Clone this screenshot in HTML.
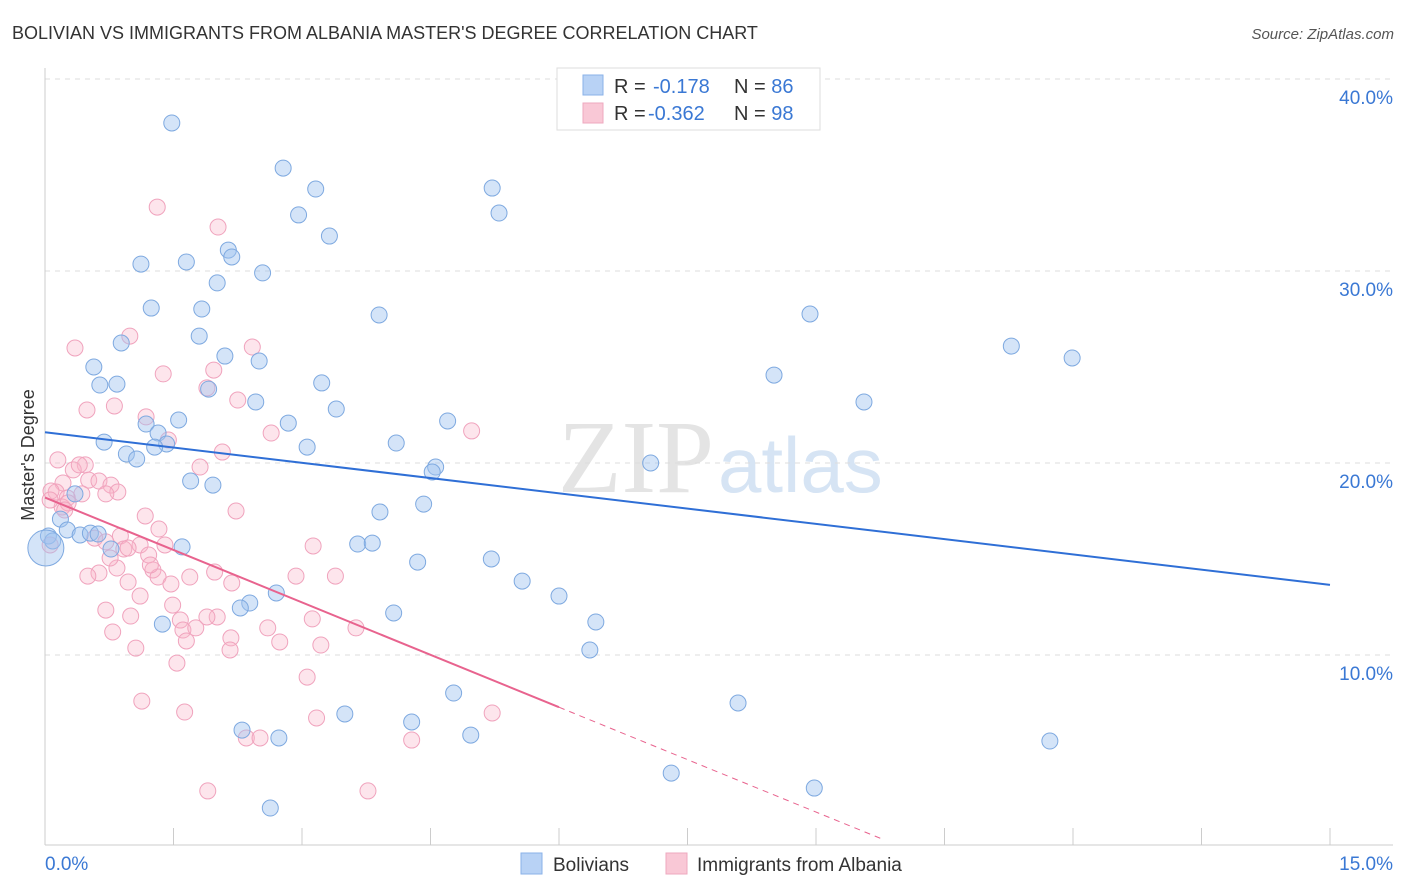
<!DOCTYPE html>
<html><head><meta charset="utf-8"><style>
body{margin:0;background:#fff;font-family:"Liberation Sans",sans-serif;}
svg{display:block}
</style></head><body>
<svg id="chart" width="1406" height="892">
<text x="12" y="39" font-size="18" fill="#333">BOLIVIAN VS IMMIGRANTS FROM ALBANIA MASTER'S DEGREE CORRELATION CHART</text>
<text x="1394" y="39" font-size="15" fill="#555" font-style="italic" text-anchor="end">Source: ZipAtlas.com</text>
<text x="714" y="492" font-size="104" fill="#e4e4e4" text-anchor="end" font-family="Liberation Serif">ZIP</text>
<text x="718" y="492" font-size="78" fill="#d6e4f4">atlas</text>
<g id="grid"></g>
<g id="axes"></g>
<g id="pts"></g>
<g id="lines"></g>
<text transform="translate(34,455) rotate(-90)" font-size="18" fill="#333" text-anchor="middle">Master's Degree</text>
<g>
<rect x="557" y="68" width="263" height="62" fill="#fff" stroke="#ddd"/>
<rect x="583" y="75" width="20" height="20" fill="#b8d2f5" stroke="#8ab2e8"/>
<rect x="583" y="103" width="20" height="20" fill="#f9c8d6" stroke="#eea8bf"/>
<text x="614" y="93" font-size="20" fill="#333">R = <tspan fill="#3a78d4" x="653">-0.178</tspan><tspan fill="#333" x="734">N = </tspan><tspan fill="#3a78d4">86</tspan></text>
<text x="614" y="120" font-size="20" fill="#333">R = <tspan fill="#3a78d4" x="648">-0.362</tspan><tspan fill="#333" x="734">N = </tspan><tspan fill="#3a78d4">98</tspan></text>
</g>
<g>
<rect x="521" y="853" width="21" height="21" fill="#b8d2f5" stroke="#8ab2e8"/>
<text x="553" y="871" font-size="19" fill="#333">Bolivians</text>
<rect x="666" y="853" width="21" height="21" fill="#f9c8d6" stroke="#eea8bf"/>
<text x="697" y="871" font-size="19" fill="#333">Immigrants from Albania</text>
</g>
</svg>
<script>
const yTicks=[10,20,30,40];
const yTickLabels=["10.0%","20.0%","30.0%","40.0%"];
const xTickCount=10;
const xLabels=["0.0%","15.0%"];
const blueX=[1.48,2.78,3.16,5.22,2.96,5.30,3.32,2.14,1.12,1.65,2.18,2.54,2.01,1.24,1.83,3.90,8.93,1.80,0.89,2.10,2.50,11.28,11.99,0.57,0.64,0.84,1.91,8.51,3.23,2.46,9.56,3.40,1.56,2.84,4.70,1.18,1.32,0.69,1.42,1.28,4.10,3.06,0.95,1.07,7.07,4.56,4.52,1.70,1.96,0.35,4.42,3.91,0.18,0.04,0.26,0.41,0.53,0.62,0.09,0.77,1.60,3.65,3.82,5.21,4.35,5.57,6.00,2.70,2.39,2.28,4.07,6.43,1.37,6.36,4.77,8.09,3.50,4.28,2.30,4.97,2.73,11.73,7.31,8.98,2.63,0.01];
const blueY=[37.71,35.36,34.27,34.32,32.92,33.02,31.82,31.09,30.36,30.47,30.73,29.90,29.38,28.07,28.02,27.71,27.76,26.61,26.25,25.57,25.31,26.09,25.47,25.00,24.06,24.11,23.85,24.58,24.17,23.18,23.18,22.81,22.24,22.08,22.19,22.03,21.56,21.09,20.99,20.83,21.04,20.83,20.47,20.21,20.00,19.79,19.53,19.06,18.85,18.39,17.86,17.45,17.08,16.20,16.51,16.25,16.35,16.30,15.94,15.52,15.63,15.78,15.83,15.00,14.84,13.85,13.07,13.23,12.71,12.45,12.19,11.72,11.61,10.26,8.02,7.50,6.93,6.51,6.09,5.83,5.68,5.52,3.85,3.07,2.03,15.57];
const pinkX=[1.31,2.02,0.35,0.99,2.42,1.38,1.97,1.89,0.49,0.81,1.18,2.25,4.98,2.64,1.44,2.07,0.15,1.81,0.47,0.33,0.40,0.51,0.63,0.21,0.77,0.43,0.85,0.13,0.07,0.26,0.71,0.20,0.27,2.23,1.17,1.33,0.88,0.58,0.71,0.92,1.11,1.21,3.13,1.40,0.63,0.84,0.50,0.97,1.26,1.32,1.69,1.98,2.93,3.39,2.18,1.47,1.11,0.71,1.00,1.49,1.58,2.01,1.61,1.76,1.89,0.79,2.17,2.60,3.12,3.63,1.65,1.06,2.74,3.22,2.16,1.54,3.06,1.13,1.63,3.17,5.22,2.35,2.51,4.28,1.90,3.77,0.06,0.06,0.23,1.23,0.76,0.97];
const pinkY=[33.33,32.29,25.99,26.61,26.04,24.64,24.84,23.91,22.76,22.97,22.40,23.28,21.67,21.56,21.20,20.57,20.16,19.79,19.90,19.64,19.90,19.11,19.06,18.96,18.85,18.39,18.49,18.49,18.54,18.18,18.39,17.71,17.92,17.50,17.24,16.56,16.20,16.09,15.89,15.52,15.73,15.21,15.68,15.73,14.27,14.53,14.11,13.80,14.43,14.06,14.06,14.32,14.11,14.11,13.75,13.70,13.07,12.34,12.03,12.60,11.82,11.98,11.30,11.41,11.98,11.20,10.89,11.41,11.88,11.41,10.73,10.36,10.68,10.52,10.26,9.58,8.85,7.60,7.03,6.72,6.98,5.68,5.68,5.57,2.92,2.92,15.73,18.07,17.55,14.69,15.05,15.57];
const blueTrend=[21.6,13.65];
const pinkTrend=[18.2,-1.82];
const pinkSolidEnd=6.0, pinkDashEnd=9.75;

const NS="http://www.w3.org/2000/svg";
const X=v=>45+v/15*1285;
const Y=v=>847-v*19.2;
function mk(tag,attrs,parent){const e=document.createElementNS(NS,tag);for(const k in attrs)e.setAttribute(k,attrs[k]);document.getElementById(parent).appendChild(e);return e;}
yTicks.forEach((t,i)=>{
  const l=mk('line',{x1:45,x2:1393,y1:Y(t),y2:Y(t),stroke:'#ddd','stroke-dasharray':'5,5'},'grid');
  
  
  const tx=mk('text',{x:1393,y:Y(t)+25,'font-size':19,fill:'#3a78d4','text-anchor':'end'},'grid');
  tx.textContent=yTickLabels[i];
  
  
});
const topL=mk('line',{x1:45,x2:1393,y1:79,y2:79,stroke:'#ddd','stroke-dasharray':'5,5'},'grid');
const ax=mk('line',{x1:45,x2:45,y1:68,y2:845,stroke:'#ccc'},'axes');


const bx=mk('line',{x1:45,x2:1393,y1:845,y2:845,stroke:'#ccc'},'axes');


for(let i=0;i<=xTickCount;i++){
  const tk=mk('line',{x1:X(i*1.5),x2:X(i*1.5),y1:828,y2:845,stroke:'#ccc'},'axes');
  
  
}
const xl0=mk('text',{x:45,y:870,'font-size':19,fill:'#3a78d4'},'axes');xl0.textContent=xLabels[0];


const xl1=mk('text',{x:1393,y:870,'font-size':19,fill:'#3a78d4','text-anchor':'end'},'axes');xl1.textContent=xLabels[1];


pinkX.forEach((v,i)=>{
  const c=mk('circle',{cx:X(v),cy:Y(pinkY[i]),r:8,fill:'rgba(248,180,200,0.35)',stroke:'#f0a3bd','stroke-width':1},'pts');
  
  
});
blueX.forEach((v,i)=>{
  const c=mk('circle',{cx:X(v),cy:Y(blueY[i]),r:i===blueX.length-1?18:8,fill:'rgba(160,195,240,0.45)',stroke:'#7ea9e0','stroke-width':1},'pts');
  
  
});
const bl=mk('line',{x1:X(0),y1:Y(blueTrend[0]),x2:X(15),y2:Y(blueTrend[1]),stroke:'#2f6fd6','stroke-width':2},'lines');


const pf=v=>pinkTrend[0]+pinkTrend[1]*v;
const pl=mk('line',{x1:X(0),y1:Y(pf(0)),x2:X(pinkSolidEnd),y2:Y(pf(pinkSolidEnd)),stroke:'#e8638e','stroke-width':2},'lines');


const pd=mk('line',{x1:X(pinkSolidEnd),y1:Y(pf(pinkSolidEnd)),x2:X(pinkDashEnd),y2:Y(pf(pinkDashEnd)),stroke:'#e8638e','stroke-width':1,'stroke-dasharray':'6,5'},'lines');


</script>
</body></html>
